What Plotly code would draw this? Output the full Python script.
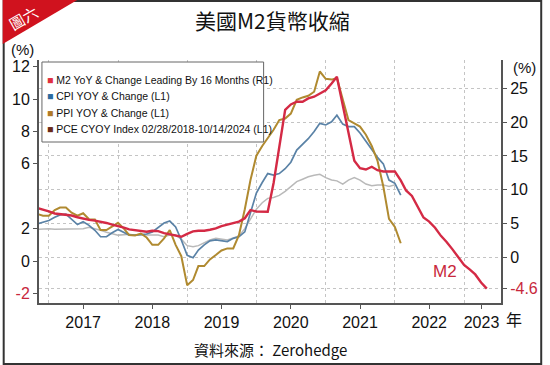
import plotly.graph_objects as go
import pandas as pd

# ---- data (monthly, Nov 2016 .. ) ----
months = pd.date_range("2016-11-01", periods=79, freq="MS")

m2_yoy_lead16 = [7.3, 7.0, 6.8, 6.5, 6.4, 6.4, 6.2, 5.95, 5.7, 5.55, 5.45, 5.3, 5.1, 4.85,
                 4.65, 4.4, 4.15, 4.0, 3.9, 3.8, 3.95, 3.9, 3.6, 3.45, 3.3, 3.07,
                 3.5, 3.85, 3.96, 3.96, 4.1, 4.3, 4.65, 4.9, 5.05, 5.3, 5.8, 7.0,
                 6.8, 6.77, 6.77, 11.0, 16.0, 21.8, 22.6, 23.0, 23.0, 23.5, 23.75, 24.25,
                 24.7, 25.7, 26.7, 22.5, 18.2, 14.3, 13.2, 13.0, 13.4, 12.9, 12.7, 12.7,
                 12.7, 11.4, 9.9, 9.1, 7.6, 5.9, 5.3, 4.4, 3.2, 2.3, 1.2, 0.1,
                 -1.1, -1.8, -2.5, -3.7, -4.6]

cpi_yoy = [2.3, 2.4, 2.5, 2.7, 2.85, 2.9, 2.6, 2.25, 2.43, 2.2, 1.9, 1.5, 1.5, 1.75,
           1.95, 1.75, 1.6, 1.6, 1.63, 1.67, 1.8, 2.05, 2.35, 2.47, 2.1, 1.3,
           0.35, 0.2, 0.68, 1.0, 1.25, 1.3, 1.25, 1.2, 1.4, 1.5, 1.8, 3.0,
           4.2, 4.85, 5.4, 5.3, 5.4, 5.7, 6.1, 6.85, 7.2, 7.55, 8.0, 8.5,
           8.4, 8.6, 9.0, 8.45, 8.3, 8.3, 7.9, 7.4, 6.9, 6.4, 6.0, 5.0,
           4.8, 4.07]

ppi_yoy = [2.9, 2.8, 2.8, 3.15, 3.3, 3.3, 2.98, 2.8, 2.95, 2.58, 2.57, 1.91, 1.91, 2.15,
           2.36, 2.0, 1.6, 1.58, 1.7, 1.45, 1.0, 1.0, 1.4, 1.91, 1.0, 0.3,
           -1.5, -1.17, -0.31, -0.31, 0.1, 0.37, 0.65, 0.78, 0.78, 1.6, 3.2, 5.0,
           6.5, 7.1, 7.6, 8.1, 8.7, 8.8, 9.1, 9.95, 10.1, 10.2, 10.45, 11.7,
           11.25, 11.2, 11.3, 10.0, 8.7, 8.5, 8.3, 7.8, 7.1, 6.2, 4.6, 2.6,
           2.1, 1.1]

pce_cyoy = [1.96, 1.98, 2.0, 1.96, 1.96, 2.0, 2.0, 1.96, 2.0, 2.08, 2.0, 1.9, 1.78, 1.7,
            1.6, 1.63, 1.65, 1.6, 1.6, 1.6, 1.6, 1.6, 1.5, 1.6, 1.6, 1.35,
            0.95, 0.88, 0.95, 1.15, 1.3, 1.4, 1.33, 1.3, 1.42, 1.55, 2.0, 2.6,
            3.2, 3.6, 3.87, 3.92, 4.05, 4.3, 4.6, 4.9, 5.05, 5.2, 5.3, 5.35,
            5.15, 5.0, 4.95, 4.75, 5.0, 5.15, 5.0, 4.75, 4.65, 4.7, 4.7, 4.6,
            4.7]

year_labels = ["2017", "2018", "2019", "2020", "2021", "2022", "2023"]
year_label_pos = ["2017-07-01", "2018-07-01", "2019-07-01", "2020-07-01",
                  "2021-07-01", "2022-07-01", "2023-04-03"]
year_bounds = ["2017-01-01", "2018-01-01", "2019-01-01", "2020-01-01",
               "2021-01-01", "2022-01-01", "2023-01-01"]
left_ticks = [-2, 0, 2, 6, 8, 10, 12]
right_ticks = [-4.6, 0, 5, 10, 15, 20, 25]

legend_names = ["M2 YoY & Change Leading By 16 Months (R1)",
                "CPI YOY & Change (L1)",
                "PPI YOY & Change (L1)",
                "PCE CYOY Index 02/28/2018-10/14/2024 (L1)"]

RED = "#d42a45"
BLUE = "#5a82a6"
GOLD = "#b08a30"
GRAY = "#b9b9b9"
legend_colors = ["#e0303f", "#2a6a9e", "#b07a28", "#6a2a18"]
AX = "#555555"
GRID = "#c4c4c4"
FONT = "Liberation Sans, Arial, sans-serif"
CJK = "Noto Sans CJK TC, sans-serif"

W, H = 550, 365
L, R, T, B = 37, 508, 60, 303


def px(x):
    return (x - L) / (R - L)


def py(y):
    return (B - y) / (B - T)


fig = go.Figure()
fig.add_trace(go.Scatter(x=months[:len(pce_cyoy)], y=pce_cyoy, mode="lines",
                         line=dict(color=GRAY, width=1.5), yaxis="y"))
fig.add_trace(go.Scatter(x=months[:len(cpi_yoy)], y=cpi_yoy, mode="lines",
                         line=dict(color=BLUE, width=1.7), yaxis="y"))
fig.add_trace(go.Scatter(x=months[:len(ppi_yoy)], y=ppi_yoy, mode="lines",
                         line=dict(color=GOLD, width=2), yaxis="y"))
fig.add_trace(go.Scatter(x=months[:len(m2_yoy_lead16)], y=m2_yoy_lead16, mode="lines",
                         line=dict(color=RED, width=2.4), yaxis="y2"))

left_text = ["<span style='color:#c8283c'>-2</span>" if v == -2 else str(v) for v in left_ticks]
right_text = ["<span style='color:#c8283c'>-4.6</span>" if v == -4.6 else str(v) for v in right_ticks]

fig.update_layout(
    width=W, height=H,
    margin=dict(l=L, r=W - R, t=T, b=H - B),
    paper_bgcolor="white", plot_bgcolor="white",
    showlegend=False,
    font=dict(family=FONT, size=16, color="#111"),
    xaxis=dict(type="date", range=["2016-11-10", "2023-07-15"],
               showgrid=False, zeroline=False,
               showline=True, linecolor=AX, linewidth=2,
               tickmode="array", tickvals=year_label_pos, ticktext=year_labels,
               ticks="outside", ticklen=4, tickcolor=AX, tickwidth=1,
               tickfont=dict(size=16, family=FONT, color="#111"),
               minor=dict(tickmode="array", tickvals=year_bounds, showgrid=True,
                          gridcolor=GRID, griddash="dot", gridwidth=1, ticks="")),
    yaxis=dict(range=[-2.59, 12.41], showgrid=False, zeroline=False,
               showline=True, linecolor=AX, linewidth=2,
               tickmode="array", tickvals=left_ticks, ticktext=left_text,
               ticks="outside", ticklen=4, tickcolor=AX,
               tickfont=dict(size=16, family=FONT, color="#111")),
    yaxis2=dict(range=[-6.72, 29.17], overlaying="y", side="right",
                showgrid=True, gridcolor=GRID, griddash="dot", gridwidth=1,
                zeroline=False, showline=True, linecolor=AX, linewidth=2,
                tickmode="array", tickvals=right_ticks, ticktext=right_text,
                ticks="outside", ticklen=4, tickcolor=AX,
                tickfont=dict(size=16, family=FONT, color="#111")),
)

shapes = []
# legend box
shapes.append(dict(type="rect", xref="paper", yref="paper",
                   x0=px(40), x1=px(266), y0=py(142), y1=py(62),
                   line=dict(color="#666", width=1), fillcolor="white", layer="above"))
# outer frame
shapes.append(dict(type="rect", xref="paper", yref="paper",
                   x0=px(1), x1=px(549), y0=py(364), y1=py(1),
                   line=dict(color="#333", width=2), layer="above"))
# red corner banner
shapes.append(dict(type="path", xref="paper", yref="paper",
                   path=f"M {px(0)},{py(0)} L {px(76)},{py(0)} L {px(0)},{py(44)} Z",
                   fillcolor="#d0121e", line=dict(width=0), layer="above"))
fig.update_layout(shapes=shapes)

ann = []
ann.append(dict(text="美國M2貨幣收縮", x=px(275), y=py(20), xref="paper", yref="paper",
                showarrow=False, font=dict(family=CJK, size=21, color="#111"),
                xanchor="center", yanchor="middle"))
ann.append(dict(text="圖六", x=px(21), y=py(17), xref="paper", yref="paper",
                showarrow=False, textangle=-30, font=dict(family=CJK, size=15, color="white"),
                xanchor="center", yanchor="middle"))
ann.append(dict(text="(%)", x=px(20), y=py(50), xref="paper", yref="paper",
                showarrow=False, font=dict(family=FONT, size=15, color="#111"),
                xanchor="center", yanchor="middle"))
ann.append(dict(text="(%)", x=px(532), y=py(68), xref="paper", yref="paper",
                showarrow=False, font=dict(family=FONT, size=15, color="#111"),
                xanchor="center", yanchor="middle"))
ann.append(dict(text="年", x=px(521), y=py(319), xref="paper", yref="paper",
                showarrow=False, font=dict(family=CJK, size=16, color="#111"),
                xanchor="center", yanchor="middle"))
ann.append(dict(text="M2", x=px(451), y=py(271), xref="paper", yref="paper",
                showarrow=False, font=dict(family=FONT, size=17, color="#c8283c"),
                xanchor="center", yanchor="middle"))
ann.append(dict(text="資料來源： Zerohedge", x=px(273), y=py(349), xref="paper", yref="paper",
                showarrow=False, font=dict(family=CJK, size=15, color="#111"),
                xanchor="center", yanchor="middle"))
legend_y = [80, 96, 113, 129]
for name, col, yy in zip(legend_names, legend_colors, legend_y):
    ann.append(dict(text=f"<span style='color:{col}'>■</span> {name}",
                    x=px(43), y=py(yy), xref="paper", yref="paper",
                    showarrow=False, xanchor="left", yanchor="middle",
                    font=dict(family=FONT, size=10.5, color="#111")))
fig.update_layout(annotations=ann)

fig.write_html("out.html", config={"displayModeBar": False},
               post_script="document.body.style.margin='0';document.body.style.padding='0';")
